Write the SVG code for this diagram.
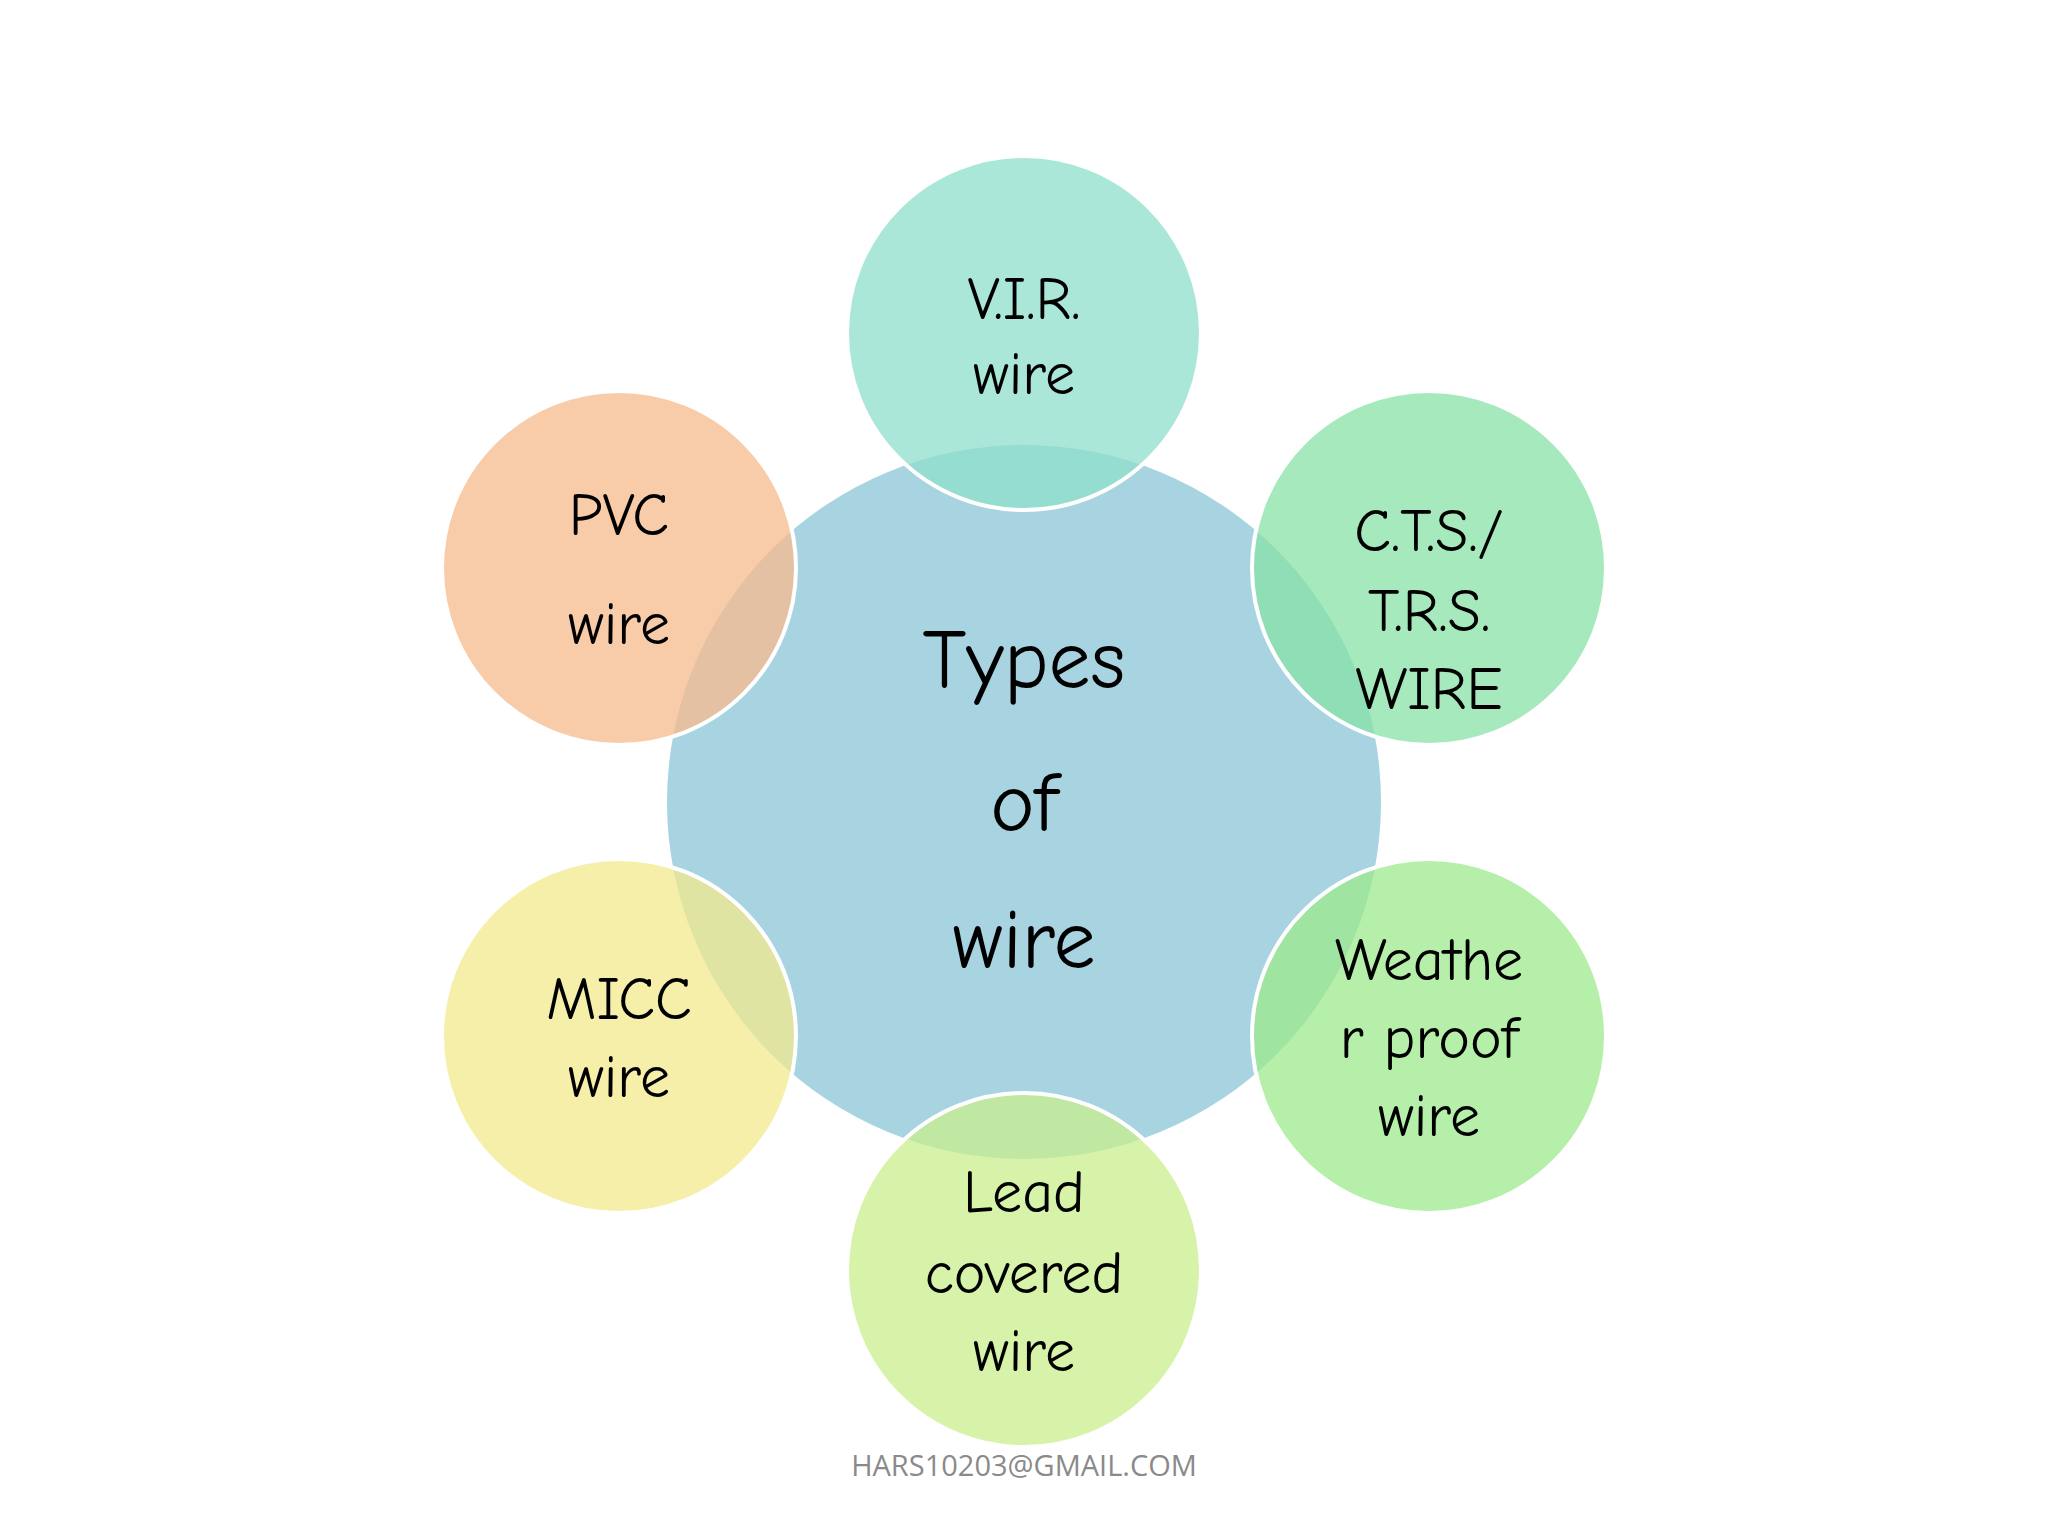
<svg xmlns="http://www.w3.org/2000/svg" width="2048" height="1536" viewBox="0 0 2048 1536">
<style>
.s{stroke:#fff;stroke-width:4;fill-opacity:0.75}
text{font-family:"Comic Neue","DejaVu Sans",sans-serif;text-anchor:middle;fill:#000}
.t{font-size:60px}
.c{font-size:84px}
</style>
<rect width="2048" height="1536" fill="#fff"/>
<g id="center"><circle cx="1024" cy="802" r="357" fill="#A8D4E2"/>
<text class="c" x="1024" y="688">Types</text><text class="c" x="1024" y="831">of</text><text class="c" x="1024" y="968">wire</text></g>
<g id="vir"><circle class="s" cx="1024" cy="333" r="177" fill="#8FDFCB"/>
<text class="t" x="1024" y="319">V.I.R.</text><text class="t" x="1024" y="394">wire</text></g>
<g id="pvc"><circle class="s" cx="619" cy="568" r="177" fill="#F7BB8C"/>
<text class="t" x="619" y="535">PVC</text><text class="t" x="619" y="644">wire</text></g>
<g id="cts"><circle class="s" cx="1429" cy="568" r="177" fill="#88E2A6"/>
<text class="t" x="1429" y="551">C.T.S./</text><text class="t" x="1429" y="631">T.R.S.</text><text class="t" x="1429" y="709">WIRE</text></g>
<g id="micc"><circle class="s" cx="619" cy="1036" r="177" fill="#F3EA8E"/>
<text class="t" x="619" y="1019">MICC</text><text class="t" x="619" y="1097">wire</text></g>
<g id="weather"><circle class="s" cx="1429" cy="1036" r="177" fill="#9DE98C"/>
<text class="t" x="1429" y="980">Weathe</text><text class="t" x="1429" y="1058">r proof</text><text class="t" x="1429" y="1136">wire</text></g>
<g id="lead"><circle class="s" cx="1024" cy="1270" r="177" fill="#C9EF8C"/>
<text class="t" x="1024" y="1212">Lead</text><text class="t" x="1024" y="1293">covered</text><text class="t" x="1024" y="1371">wire</text></g>
<g id="connectors"/>
<text x="1024" y="1476" style="font-family:'Open Sans','Liberation Sans',sans-serif;font-size:29px;fill:#8a8a8a">HARS10203@GMAIL.COM</text>
</svg>
